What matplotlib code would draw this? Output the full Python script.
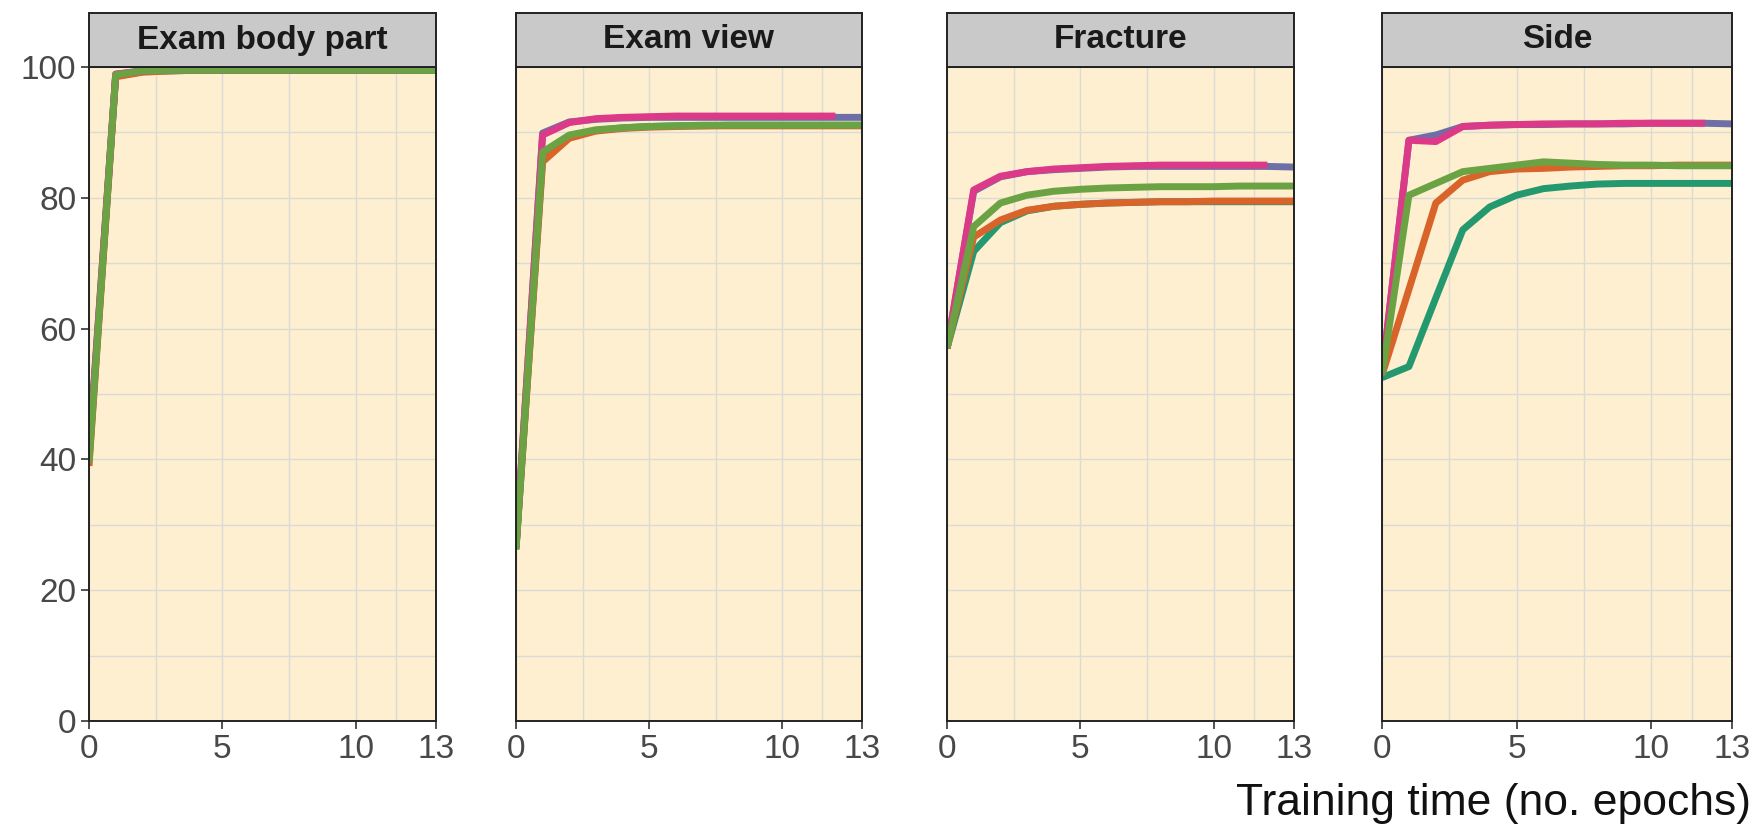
import numpy as np
import matplotlib
matplotlib.use('Agg')
import matplotlib.pyplot as plt
from matplotlib.patches import Rectangle

plt.rcParams['font.family'] = ['Liberation Sans', 'DejaVu Sans']

# epochs and panel titles
epochs = list(range(14))
panels = ['Exam body part', 'Exam view', 'Fracture', 'Side']

# Dark2-like colours, in draw order
series_names = ['teal', 'orange', 'blue', 'pink', 'green']
series_colors = ['#24986f', '#d8642a', '#6f6fa8', '#dc3a88', '#6ba344']

# Exam body part
body_teal = [40.0, 98.6, 99.3, 99.4, 99.5, 99.5, 99.5, 99.5, 99.5, 99.5, 99.5, 99.5, 99.5, 99.5]
body_orange = [39.0, 98.5, 99.2, 99.4, 99.5, 99.5, 99.5, 99.5, 99.5, 99.5, 99.5, 99.5, 99.5, 99.5]
body_blue = [41.0, 98.9, 99.4, 99.5, 99.5, 99.5, 99.5, 99.5, 99.5, 99.5, 99.5, 99.5, 99.5, 99.5]
body_pink = [40.5, 98.9, 99.4, 99.5, 99.5, 99.5, 99.5, 99.5, 99.5, 99.5, 99.5, 99.5, 99.5]
body_green = [39.5, 98.8, 99.4, 99.5, 99.5, 99.5, 99.5, 99.5, 99.5, 99.5, 99.5, 99.5, 99.5, 99.5]

# Exam view
view_teal = [26.5, 86.0, 89.3, 90.3, 90.7, 90.9, 91.0, 91.0, 91.1, 91.1, 91.1, 91.1, 91.1, 91.1]
view_orange = [26.3, 85.5, 89.1, 90.2, 90.6, 90.8, 90.9, 91.0, 91.0, 91.0, 91.0, 91.0, 91.0, 91.0]
view_blue = [26.5, 89.9, 91.6, 92.0, 92.2, 92.3, 92.3, 92.3, 92.3, 92.3, 92.3, 92.3, 92.3, 92.3]
view_pink = [26.5, 89.6, 91.5, 92.1, 92.3, 92.4, 92.5, 92.5, 92.5, 92.5, 92.5, 92.5, 92.5]
view_green = [26.2, 87.0, 89.6, 90.4, 90.7, 90.9, 91.0, 91.1, 91.1, 91.1, 91.1, 91.1, 91.1, 91.1]

# Fracture
frac_teal = [57.0, 71.8, 76.2, 78.0, 78.7, 79.0, 79.2, 79.3, 79.4, 79.4, 79.4, 79.4, 79.4, 79.4]
frac_orange = [57.0, 74.0, 76.6, 78.1, 78.7, 79.0, 79.2, 79.3, 79.4, 79.4, 79.5, 79.5, 79.5, 79.5]
frac_blue = [57.0, 81.0, 83.2, 84.0, 84.3, 84.5, 84.7, 84.8, 84.8, 84.8, 84.8, 84.8, 84.8, 84.7]
frac_pink = [57.0, 81.2, 83.3, 84.0, 84.4, 84.6, 84.8, 84.9, 85.0, 85.0, 85.0, 85.0, 85.0]
frac_green = [57.0, 75.6, 79.2, 80.4, 81.0, 81.3, 81.5, 81.6, 81.7, 81.7, 81.7, 81.8, 81.8, 81.8]

# Side
side_teal = [52.5, 54.2, 64.7, 75.1, 78.6, 80.4, 81.4, 81.8, 82.1, 82.2, 82.2, 82.2, 82.2, 82.2]
side_orange = [52.9, 66.0, 79.2, 82.7, 84.0, 84.4, 84.5, 84.7, 84.8, 84.9, 84.9, 85.0, 85.0, 85.0]
side_blue = [52.9, 88.8, 89.6, 90.9, 91.1, 91.2, 91.2, 91.3, 91.3, 91.3, 91.4, 91.4, 91.4, 91.3]
side_pink = [52.9, 88.8, 88.6, 90.9, 91.1, 91.2, 91.3, 91.3, 91.3, 91.4, 91.4, 91.4, 91.4]
side_green = [52.9, 80.4, 82.2, 84.0, 84.5, 85.0, 85.5, 85.3, 85.1, 85.0, 85.0, 84.9, 84.9, 84.9]

panel_data = [
    [body_teal, body_orange, body_blue, body_pink, body_green],
    [view_teal, view_orange, view_blue, view_pink, view_green],
    [frac_teal, frac_orange, frac_blue, frac_pink, frac_green],
    [side_teal, side_orange, side_blue, side_pink, side_green],
]

xticks = [0, 5, 10, 13]
xminor = [2.5, 7.5, 11.5]
yticks = [0, 20, 40, 60, 80, 100]
yminor = [10, 30, 50, 70, 90]

fig = plt.figure(figsize=(17.58, 8.25), dpi=100)

lefts = [89, 516, 947, 1382]
widths = [347, 346, 347, 350]
W, H = 1758, 825
bottom = 1 - 721 / H
height = (721 - 67) / H
strip_h = 54 / (721 - 67)

tick_col = '#484848'
for i, name in enumerate(panels):
    ax = fig.add_axes([lefts[i] / W, bottom, widths[i] / W, height])
    ax.set_facecolor('#fdefcf')
    for x in xticks + xminor:
        ax.axvline(x, color='#dadbd6', lw=1.0, zorder=0)
    for y in yticks + yminor:
        ax.axhline(y, color='#dadbd6', lw=1.0, zorder=0)
    for vals, col in zip(panel_data[i], series_colors):
        ax.plot(epochs[:len(vals)], vals, color=col, lw=5.0,
                solid_joinstyle='round', solid_capstyle='butt', zorder=2)
    ax.set_xlim(0, 13)
    ax.set_ylim(0, 100)
    ax.set_xticks(xticks)
    ax.set_yticks(yticks)
    ax.tick_params(axis='both', direction='out', length=6, width=1.2,
                   color='#333333', labelsize=24, labelcolor=tick_col, pad=3)
    if i > 0:
        ax.tick_params(axis='y', left=False, labelleft=False)
    for sp in ax.spines.values():
        sp.set_color('#222222')
        sp.set_linewidth(1.4)
    ax.add_patch(Rectangle((0, 1), 1, strip_h, transform=ax.transAxes,
                           facecolor='#c9c9c9', edgecolor='#222222', lw=1.4,
                           clip_on=False, zorder=5))
    ax.text(0.5, 1 + strip_h / 2, name, transform=ax.transAxes,
            ha='center', va='center', fontsize=24, fontweight='bold',
            color='#1a1a1a', zorder=6)

fig.text(0.996, 1 - 804 / H, 'Training time (no. epochs)', ha='right',
         va='center', fontsize=32, color='#111111')

fig.savefig('out.png', dpi=100)
